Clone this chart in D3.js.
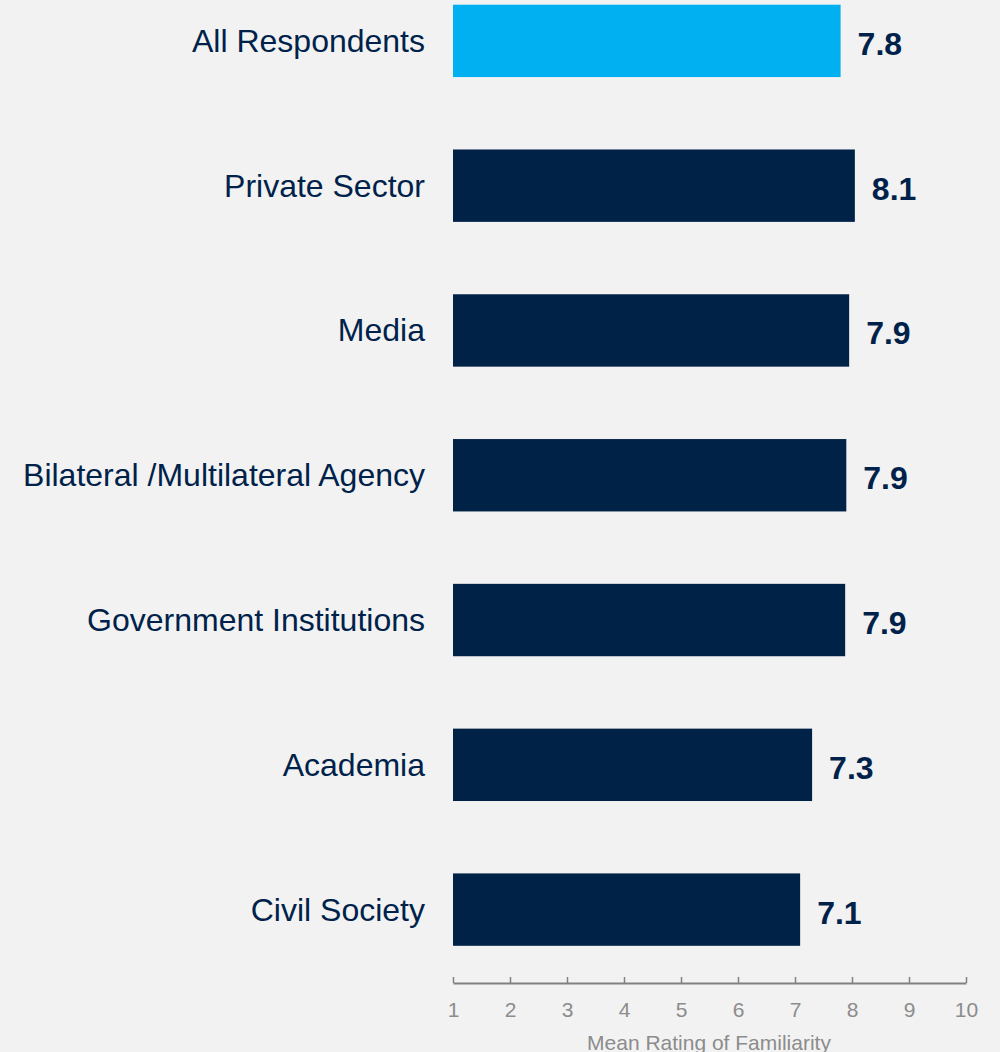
<!DOCTYPE html>
<html><head><meta charset="utf-8">
<script src="https://cdn.jsdelivr.net/npm/d3@7"></script>
<style>html,body{margin:0;padding:0;background:#f2f2f2;}svg{display:block;}</style>
</head><body>
<script>
const categories = ["All Respondents","Private Sector","Media","Bilateral /Multilateral Agency","Government Institutions","Academia","Civil Society"];
const values = [7.8, 8.05, 7.95, 7.9, 7.88, 7.3, 7.09];
const valueLabels = ["7.8","8.1","7.9","7.9","7.9","7.3","7.1"];
const ticks = [1,2,3,4,5,6,7,8,9,10];
const axisTitle = "Mean Rating of Familiarity";

const W = 1000, H = 1052;
const FONT = "'Liberation Sans', Arial, sans-serif";
const svg = d3.select("body").append("svg").attr("width", W).attr("height", H);
svg.append("rect").attr("width", W).attr("height", H).attr("fill", "#f2f2f2");

const x = d3.scaleLinear().domain([1,10]).range([453, 966]);
const y = d3.scaleBand().domain(categories).range([-31.5, 982]).paddingInner(0.5).paddingOuter(0.25);

const navy = "#00224a";
svg.selectAll("rect.bar").data(categories).enter().append("rect")
  .attr("class","bar")
  .attr("x", x(1))
  .attr("y", d => y(d))
  .attr("height", y.bandwidth())
  .attr("width", (d,i) => x(values[i]) - x(1))
  .attr("fill", (d,i) => i === 0 ? "#00b0f0" : "#002246");

svg.selectAll("text.cat").data(categories).enter().append("text")
  .attr("x", 425).attr("y", d => y(d) + y.bandwidth()/2)
  .attr("text-anchor","end").attr("dominant-baseline","central")
  .style("font-family", FONT).style("font-size", "32px")
  .attr("fill", navy).text(d => d);

svg.selectAll("text.val").data(categories).enter().append("text")
  .attr("x", (d,i) => x(values[i]) + 17).attr("y", d => y(d) + y.bandwidth()/2 + 3)
  .attr("dominant-baseline","central")
  .style("font-family", FONT).style("font-size", "32px").style("font-weight","bold")
  .attr("fill", navy).text((d,i) => valueLabels[i]);

const axis = d3.axisTop(x).tickValues(ticks).tickSize(6).tickSizeOuter(0).tickPadding(0);
const g = svg.append("g").attr("transform","translate(0,983)").call(axis);
g.attr("font-family", null).attr("font-size", null);
g.select(".domain").attr("stroke","#808080").attr("stroke-width",2);
g.selectAll(".tick line").attr("stroke","#808080").attr("stroke-width",1.5);
g.selectAll(".tick text").attr("y", 26).attr("dy", 0).attr("dominant-baseline","central")
  .style("font-family", FONT).style("font-size", "21px").attr("fill","#8c8c8c");

svg.append("text").attr("x", 709).attr("y", 1042).attr("text-anchor","middle")
  .attr("dominant-baseline","central")
  .style("font-family", FONT).style("font-size", "21px").attr("fill","#8c8c8c")
  .text(axisTitle);
</script>
</body></html>
